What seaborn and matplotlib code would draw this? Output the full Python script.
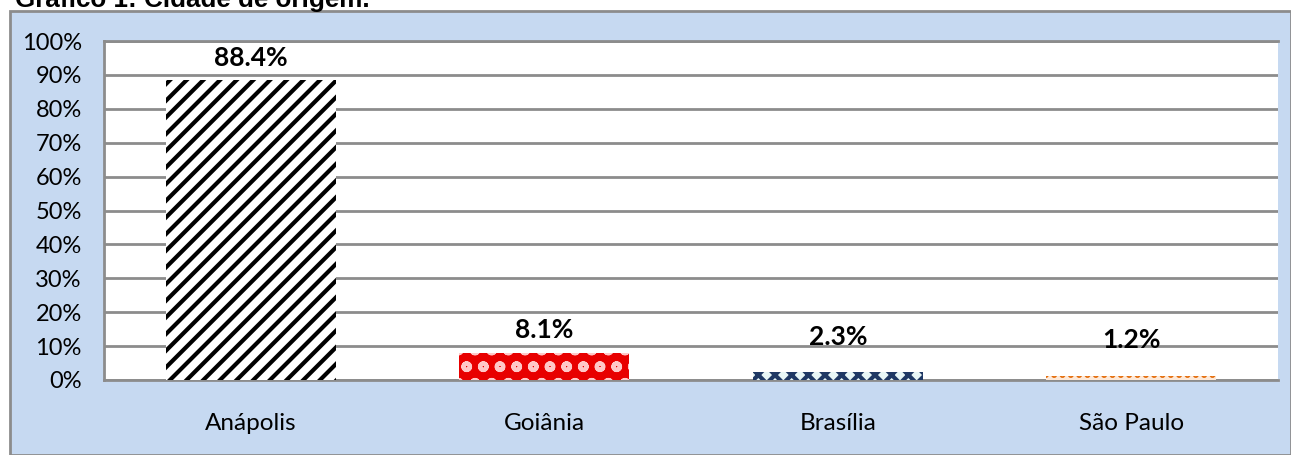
import matplotlib
matplotlib.use("Agg")
import matplotlib.pyplot as plt
import seaborn as sns
import pandas as pd
from matplotlib.patches import Rectangle
from matplotlib.ticker import PercentFormatter

cidades = ['Anápolis', 'Goiânia', 'Brasília', 'São Paulo']
percentuais = [88.4, 8.1, 2.3, 1.2]
rotulos = ['88.4%', '8.1%', '2.3%', '1.2%']
titulo = 'Gráfico 1: Cidade de origem.'

sns.set_theme(style="white")
plt.rcParams['font.family'] = ['Lato', 'DejaVu Sans']
plt.rcParams['hatch.linewidth'] = 3.0
plt.rcParams['text.color'] = 'black'
plt.rcParams['xtick.color'] = 'black'
plt.rcParams['ytick.color'] = 'black'

df = pd.DataFrame({'cidade': cidades, 'pct': [v / 100 for v in percentuais]})

fig = plt.figure(figsize=(12.91, 4.55), dpi=100)

# caixa azul de fundo
fundo = Rectangle((10 / 1291, 0), 1 - 10 / 1291, 1 - 11 / 455, transform=fig.transFigure,
                  facecolor='#c6d9f1', edgecolor='#8c8c8c', linewidth=2, zorder=-10)
fig.patches.append(fundo)

fig.text(15 / 1291, 1 - 7 / 455, titulo, fontsize=18.7, fontweight='bold',
         family=['Liberation Sans', 'DejaVu Sans'], va='baseline', ha='left', color='black')

ax = fig.add_axes([104 / 1291, 1 - 380 / 455, (1278 - 104) / 1291, (380 - 41) / 455])
ax.set_zorder(5)
ax.set_facecolor('white')

sns.barplot(data=df, x='cidade', y='pct', color='white', width=0.58, ax=ax, zorder=3)

estilos = [
    dict(facecolor='white', edgecolor='black', hatch='//'),
    dict(facecolor='#e80000', edgecolor='#ffc8c8', hatch='o'),
    dict(facecolor='#e8f6f6', edgecolor='#1f3864', hatch='xx'),
    dict(facecolor='#fde9d9', edgecolor='#e46c0a', hatch='..'),
]
for barra, est in zip(ax.patches, estilos):
    barra.set_facecolor(est['facecolor'])
    barra.set_edgecolor(est['edgecolor'])
    barra.set_hatch(est['hatch'])
    barra.set_linewidth(0)

# distancia (pt) entre topo da barra e centro do rotulo
afast = [16, 16, 25, 26]
for i, (v, r) in enumerate(zip(percentuais, rotulos)):
    ax.annotate(r, (i, v / 100), xytext=(0, afast[i]), textcoords='offset points',
                ha='center', va='center', fontsize=19, fontweight='bold', color='black')

ax.set_ylim(0, 1)
ax.set_yticks([i / 10 for i in range(11)])
ax.yaxis.set_major_formatter(PercentFormatter(1.0, decimals=0))
ax.grid(axis='y', color='#8c8c8c', linewidth=2, zorder=0)
ax.set_axisbelow(True)
ax.tick_params(axis='y', labelsize=17, length=0, pad=16)
ax.tick_params(axis='x', labelsize=17.5, length=0, pad=24)
ax.set_xlabel('')
ax.set_ylabel('')
for lado in ['top', 'right', 'left', 'bottom']:
    ax.spines[lado].set_color('#8c8c8c')
    ax.spines[lado].set_linewidth(2)
ax.spines['right'].set_visible(False)

fig.savefig('out.png', dpi=100)
